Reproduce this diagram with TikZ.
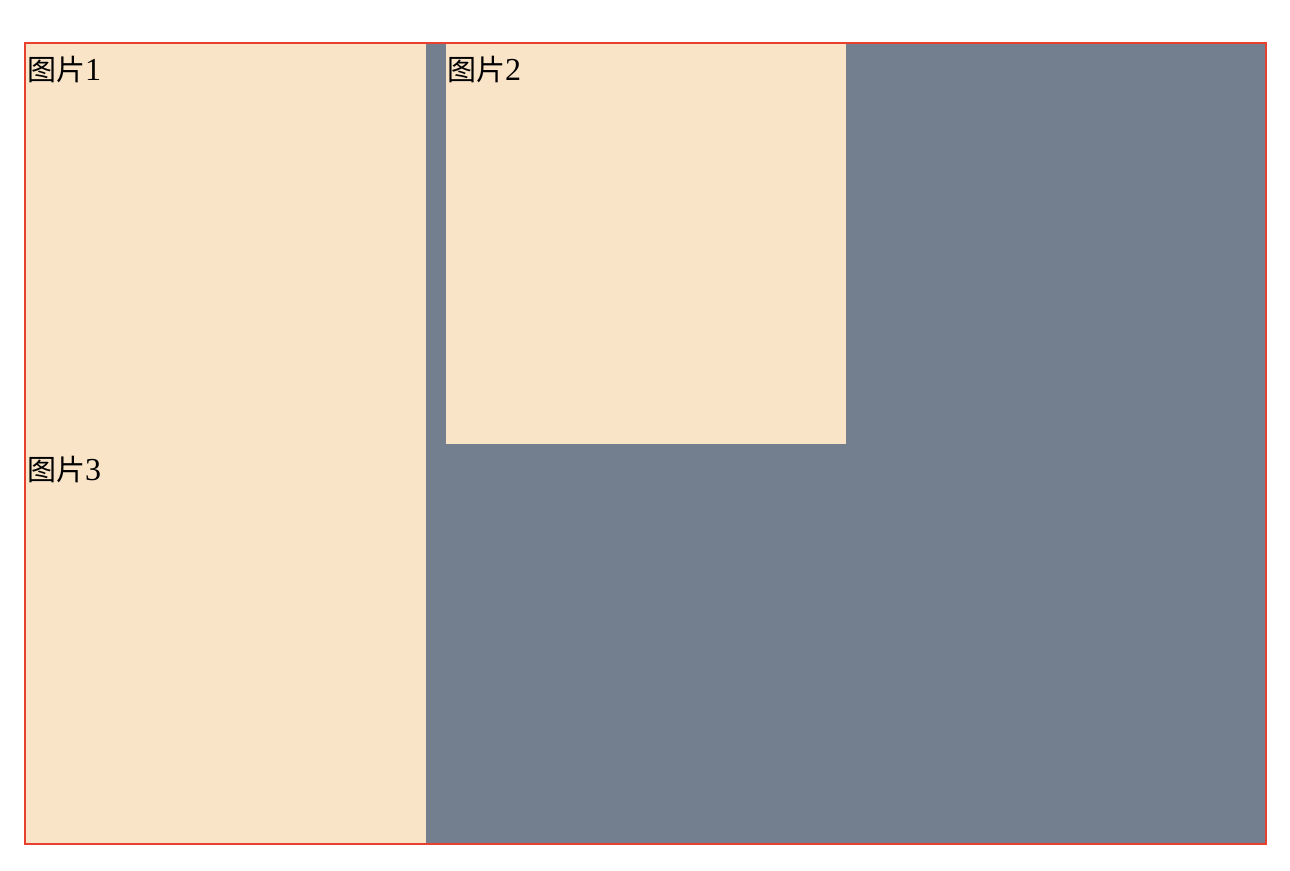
\documentclass[tikz,border=0pt]{standalone}
\usepackage{fontspec}
\setmainfont{Liberation Serif}
\newfontfamily\cjk{Noto Sans CJK SC}
\definecolor{boxbeige}{HTML}{FAE4C8}
\definecolor{boxgray}{HTML}{737F8F}
\definecolor{boxred}{HTML}{E8402E}
\newcommand{\pic}[1]{{\fontsize{29}{34}\selectfont\cjk 图片}#1}
\tikzset{
  lbl/.style={anchor=base west, inner sep=0pt, text=black, font=\fontsize{32}{36}\selectfont},
  panel/.style={fill=boxbeige, draw=none}
}
\begin{document}
\begin{tikzpicture}[x=1pt, y=-1pt]
\useasboundingbox (0,0) rectangle (1290,870);
\fill[white] (0,0) rectangle (1290,870);
% container
\fill[boxgray] (25,43) rectangle (1266,844);
\fill[panel] (25,43) rectangle (426,844);
\fill[panel] (446,43) rectangle (846,444);
\draw[boxred, line width=2pt] (25,43) rectangle (1266,844);
% labels
\node[lbl] (p1) at (27,80) {\pic{1}};
\node[lbl] (p2) at (447,80) {\pic{2}};
\node[lbl] (p3) at (27,480) {\pic{3}};
\end{tikzpicture}
\end{document}
